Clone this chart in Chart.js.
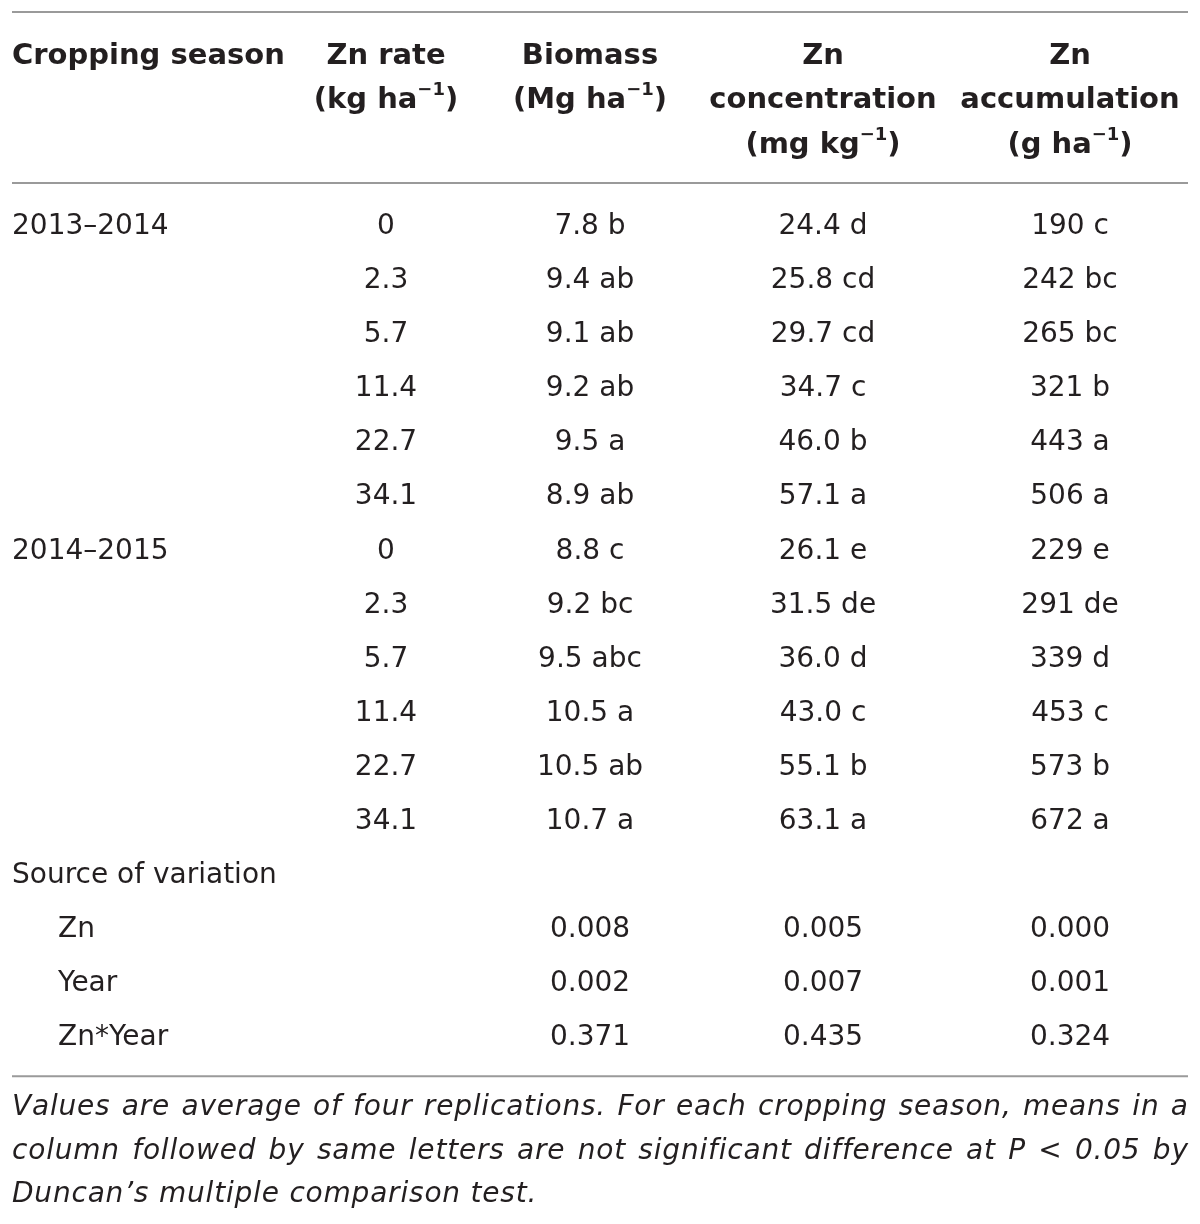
<!DOCTYPE html>
<html>
<head>
<meta charset="utf-8">
<script src="https://cdn.jsdelivr.net/npm/chart.js@4.4.0/dist/chart.umd.min.js"></script>
<style>
    html, body { margin: 0; padding: 0; background: #fff; }
    #wrap { width: 1200px; height: 1224px; position: relative; }
</style>
</head>
<body>
<div id="wrap"><canvas id="table"></canvas></div>
<script>
// column headings, one entry per line, ^..^ marks a superscript
const headerSeason = ['Cropping season'];
const headerRate = ['Zn rate', '(kg ha^−1^)'];
const headerBiomass = ['Biomass', '(Mg ha^−1^)'];
const headerConc = ['Zn', 'concentration', '(mg kg^−1^)'];
const headerAccum = ['Zn', 'accumulation', '(g ha^−1^)'];

const seasons = ['2013–2014', '2014–2015'];
const znRates = [0, 2.3, 5.7, 11.4, 22.7, 34.1];

const biomass2013 = [7.8, 9.4, 9.1, 9.2, 9.5, 8.9];
const biomassLetters2013 = ['b', 'ab', 'ab', 'ab', 'a', 'ab'];
const biomass2014 = [8.8, 9.2, 9.5, 10.5, 10.5, 10.7];
const biomassLetters2014 = ['c', 'bc', 'abc', 'a', 'ab', 'a'];

const conc2013 = [24.4, 25.8, 29.7, 34.7, 46.0, 57.1];
const concLetters2013 = ['d', 'cd', 'cd', 'c', 'b', 'a'];
const conc2014 = [26.1, 31.5, 36.0, 43.0, 55.1, 63.1];
const concLetters2014 = ['e', 'de', 'd', 'c', 'b', 'a'];

const accum2013 = [190, 242, 265, 321, 443, 506];
const accumLetters2013 = ['c', 'bc', 'bc', 'b', 'a', 'a'];
const accum2014 = [229, 291, 339, 453, 573, 672];
const accumLetters2014 = ['e', 'de', 'd', 'c', 'b', 'a'];

const sourceTitle = 'Source of variation';
const sources = ['Zn', 'Year', 'Zn*Year'];
const pBiomass = [0.008, 0.002, 0.371];
const pConc = [0.005, 0.007, 0.435];
const pAccum = [0.000, 0.001, 0.324];

const footnoteLines = [
    'Values are average of four replications. For each cropping season, means in a',
    'column followed by same letters are not significant difference at P < 0.05 by',
    'Duncan’s multiple comparison test.'
];

// layout (x in page pixels, y in row units)
const COL_X = [12, 386, 590, 823, 1070];
const INDENT_X = 58;
const RIGHT_X = 1188;
const ROW_PX0 = 224;
const ROW_STEP = 54.07;
const HEAD_ROWS = [-3.16, -2.33, -1.5];
const RULE_ROWS = [-3.92, -0.76, 15.76];
const FOOT_ROWS = [16.29, 17.1, 17.9];
const TEXT_COLOR = '#231f20';
const RULE_COLOR = '#9a9a9a';
const FONT = '"DejaVu Sans", sans-serif';

const rows2 = znRates.length;
const srcRow0 = rows2 * 2 + 1;

function withLetter(values, letters, digits) {
    return values.map((v, i) => v.toFixed(digits) + ' ' + letters[i]);
}

function column(x, texts, firstRow) {
    return texts.map((t, i) => ({ x: x, y: firstRow + i, text: t }));
}

function textSet(points, opts) {
    return Object.assign({
        type: 'scatter',
        data: points,
        pointRadius: 0,
        cellText: true,
        align: 'center',
        weight: 'normal',
        style: 'normal',
        size: 28,
        spacing: 0
    }, opts);
}

const datasets = [];

// header
[headerSeason, headerRate, headerBiomass, headerConc, headerAccum].forEach((lines, c) => {
    datasets.push(textSet(lines.map((t, k) => ({ x: COL_X[c], y: HEAD_ROWS[k], text: t })), {
        align: c === 0 ? 'left' : 'center',
        weight: 'bold',
        size: 29
    }));
});

// first column
datasets.push(textSet([
    { x: COL_X[0], y: 0, text: seasons[0] },
    { x: COL_X[0], y: rows2, text: seasons[1] },
    { x: COL_X[0], y: srcRow0 - 1, text: sourceTitle }
], { align: 'left' }));
datasets.push(textSet(column(INDENT_X, sources, srcRow0), { align: 'left' }));

// body
datasets.push(textSet(column(COL_X[1], znRates.concat(znRates).map(v => String(v)), 0)));
datasets.push(textSet(column(COL_X[2], withLetter(biomass2013, biomassLetters2013, 1)
    .concat(withLetter(biomass2014, biomassLetters2014, 1)), 0)));
datasets.push(textSet(column(COL_X[3], withLetter(conc2013, concLetters2013, 1)
    .concat(withLetter(conc2014, concLetters2014, 1)), 0)));
datasets.push(textSet(column(COL_X[4], withLetter(accum2013, accumLetters2013, 0)
    .concat(withLetter(accum2014, accumLetters2014, 0)), 0)));

// p values
datasets.push(textSet(column(COL_X[2], pBiomass.map(v => v.toFixed(3)), srcRow0)));
datasets.push(textSet(column(COL_X[3], pConc.map(v => v.toFixed(3)), srcRow0)));
datasets.push(textSet(column(COL_X[4], pAccum.map(v => v.toFixed(3)), srcRow0)));

// footnote
datasets.push(textSet(footnoteLines.map((t, k) => ({ x: COL_X[0], y: FOOT_ROWS[k], text: t })), {
    align: 'justify',
    style: 'oblique',
    size: 28,
    spacing: 0.8
}));

// horizontal rules
RULE_ROWS.forEach(r => {
    datasets.push({
        type: 'scatter',
        showLine: true,
        data: [{ x: COL_X[0], y: r }, { x: RIGHT_X, y: r }],
        borderColor: RULE_COLOR,
        borderWidth: 2,
        pointRadius: 0
    });
});

function segments(text) {
    return text.split('^').map((t, i) => ({ t: t, sup: i % 2 === 1 })).filter(s => s.t.length);
}

// width of a word with extra tracking between letters
function wordWidth(ctx, w, sp) {
    if (!sp) return ctx.measureText(w).width;
    let total = 0;
    for (const ch of w) total += ctx.measureText(ch).width + sp;
    return total - sp;
}

function drawWord(ctx, w, x, y, sp) {
    if (!sp) { ctx.fillText(w, x, y); return; }
    let cx = x;
    for (const ch of w) {
        ctx.fillText(ch, cx, y);
        cx += ctx.measureText(ch).width + sp;
    }
}

function drawCell(ctx, ds, text, x, y, rightPx, isLast) {
    const size = ds.size;
    const supSize = Math.round(size * 0.62);
    const base = y + size * 0.36;
    ctx.fillStyle = TEXT_COLOR;
    ctx.textBaseline = 'alphabetic';
    ctx.textAlign = 'left';

    if (ds.align === 'justify') {
        ctx.font = `${ds.style} ${ds.weight} ${size}px ${FONT}`;
        const words = text.split(' ');
        const widths = words.map(w => wordWidth(ctx, w, ds.spacing));
        const total = widths.reduce((a, b) => a + b, 0);
        let gap = ctx.measureText(' ').width + ds.spacing * 2;
        if (!isLast && words.length > 1) gap = (rightPx - x - total) / (words.length - 1);
        let cx = x;
        words.forEach((w, i) => {
            drawWord(ctx, w, cx, base, ds.spacing);
            cx += widths[i] + gap;
        });
        return;
    }

    const segs = segments(text);
    let total = 0;
    segs.forEach(s => {
        ctx.font = `${ds.style} ${ds.weight} ${s.sup ? supSize : size}px ${FONT}`;
        s.w = ctx.measureText(s.t).width;
        total += s.w;
    });
    let cx = ds.align === 'left' ? x : x - total / 2;
    segs.forEach(s => {
        ctx.font = `${ds.style} ${ds.weight} ${s.sup ? supSize : size}px ${FONT}`;
        ctx.fillText(s.t, cx, s.sup ? base - size * 0.45 : base);
        cx += s.w;
    });
}

const cellTextPlugin = {
    id: 'cellText',
    afterDatasetsDraw(chart) {
        const ctx = chart.ctx;
        const rightPx = chart.scales.x.getPixelForValue(RIGHT_X);
        ctx.save();
        chart.data.datasets.forEach((ds, i) => {
            if (!ds.cellText) return;
            const meta = chart.getDatasetMeta(i);
            meta.data.forEach((el, j) => {
                drawCell(ctx, ds, ds.data[j].text, el.x, el.y, rightPx, j === meta.data.length - 1);
            });
        });
        ctx.restore();
    }
};

new Chart(document.getElementById('table'), {
    type: 'scatter',
    data: { datasets: datasets },
    options: {
        responsive: true,
        maintainAspectRatio: false,
        animation: false,
        events: [],
        layout: { padding: 0 },
        plugins: {
            legend: { display: false },
            tooltip: { enabled: false }
        },
        scales: {
            x: { type: 'linear', display: false, min: 0, max: 1200 },
            y: {
                type: 'linear',
                display: false,
                reverse: true,
                min: -ROW_PX0 / ROW_STEP,
                max: (1224 - ROW_PX0) / ROW_STEP
            }
        }
    },
    plugins: [cellTextPlugin]
});
</script>
</body>
</html>
